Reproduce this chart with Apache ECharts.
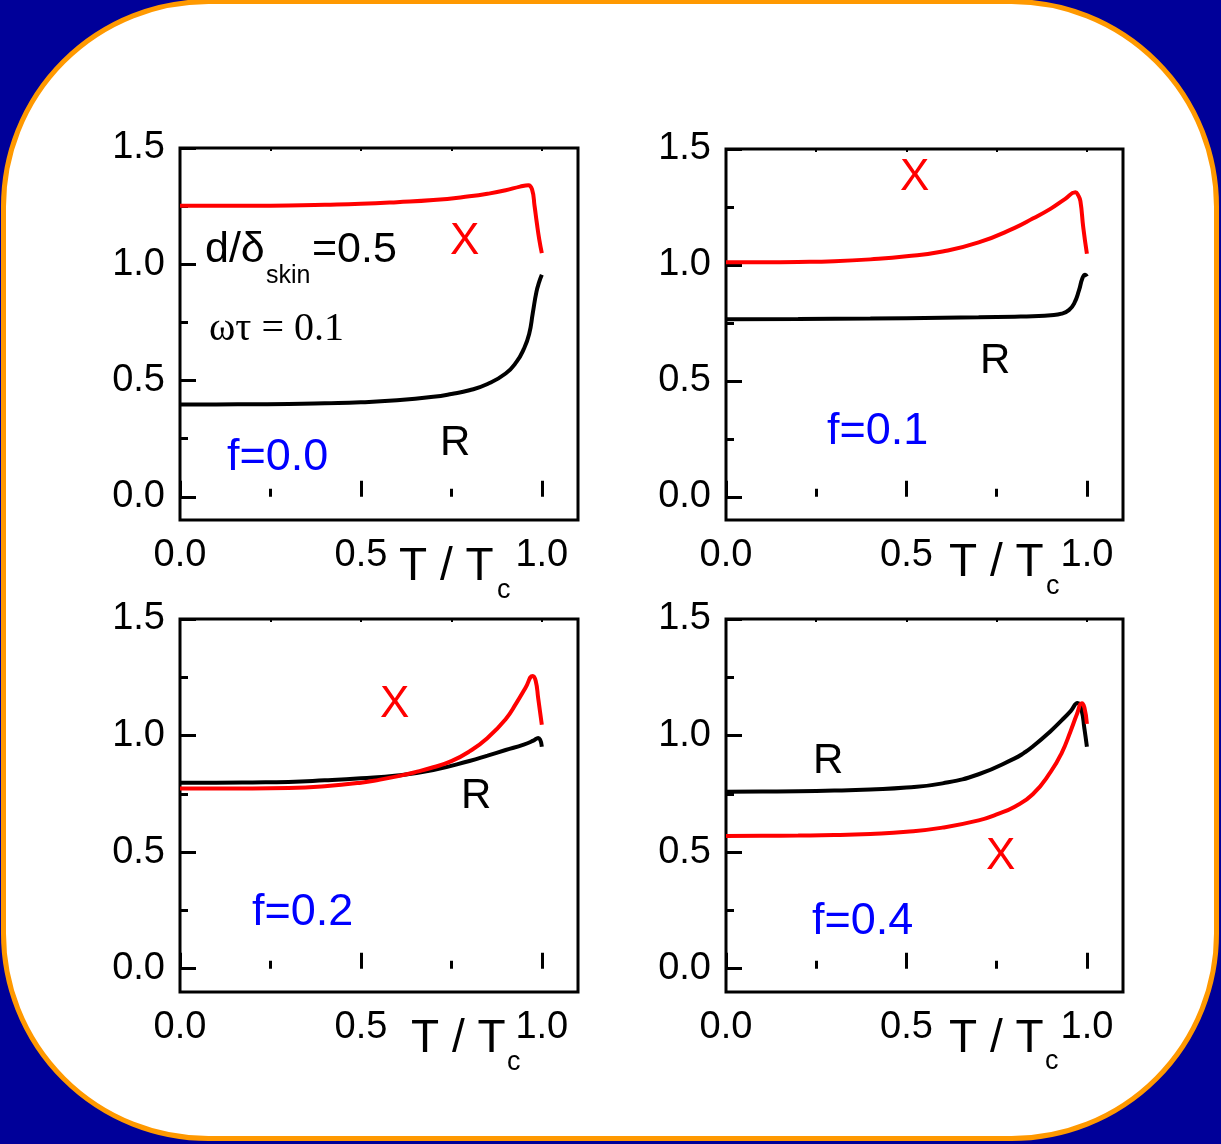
<!DOCTYPE html>
<html><head><meta charset="utf-8">
<script src="https://cdn.jsdelivr.net/npm/echarts@6/dist/echarts.min.js"></script>
<style>html,body{margin:0;padding:0;background:#000099;}#c{width:1221px;height:1144px;}</style>
</head><body><div id="c"></div><script>
// ---- data ----
const panelLabels = ['f=0.0', 'f=0.1', 'f=0.2', 'f=0.4'];
const xTickValues = [0, 0.5, 1.0];
const xMinorValues = [0.25, 0.75];
const xTopValues = [0.25, 0.5, 0.75, 1.0];
const yTickValues = [0, 0.5, 1.0, 1.5];
const yMinorValues = [0.25, 0.75, 1.25];

// f = 0.0
const f00_X_t = [0, 0.1, 0.2, 0.3, 0.4, 0.5, 0.6, 0.7, 0.8, 0.85, 0.9, 0.94, 0.963, 0.973, 0.98, 0.986, 0.993, 1.0];
const f00_X   = [1.252, 1.252, 1.252, 1.253, 1.256, 1.260, 1.267, 1.276, 1.292, 1.303, 1.318, 1.334, 1.340, 1.322, 1.25, 1.18, 1.106, 1.048];
const f00_R_t = [0, 0.1, 0.2, 0.3, 0.4, 0.5, 0.6, 0.7, 0.75, 0.8, 0.85, 0.9, 0.93, 0.95, 0.965, 0.975, 0.985, 0.993, 1.0];
const f00_R   = [0.397, 0.397, 0.398, 0.399, 0.402, 0.406, 0.415, 0.430, 0.442, 0.458, 0.485, 0.530, 0.580, 0.635, 0.700, 0.790, 0.880, 0.925, 0.955];
// f = 0.1
const f01_X_t = [0, 0.1, 0.2, 0.3, 0.4, 0.5, 0.6, 0.7, 0.8, 0.85, 0.9, 0.94, 0.968, 0.976, 0.982, 0.99, 1.0];
const f01_X   = [1.012, 1.012, 1.013, 1.016, 1.024, 1.037, 1.058, 1.097, 1.160, 1.200, 1.243, 1.285, 1.313, 1.300, 1.275, 1.16, 1.048];
const f01_R_t = [0, 0.2, 0.4, 0.6, 0.7, 0.8, 0.85, 0.9, 0.93, 0.95, 0.965, 0.978, 0.988, 0.995, 1.0];
const f01_R   = [0.766, 0.767, 0.769, 0.772, 0.774, 0.777, 0.779, 0.783, 0.790, 0.805, 0.835, 0.890, 0.945, 0.958, 0.950];
// f = 0.2
const f02_X_t = [0, 0.1, 0.2, 0.3, 0.4, 0.5, 0.55, 0.6, 0.65, 0.7, 0.75, 0.8, 0.85, 0.9, 0.93, 0.955, 0.975, 0.983, 0.99, 1.0];
const f02_X   = [0.773, 0.773, 0.773, 0.775, 0.783, 0.798, 0.810, 0.825, 0.843, 0.864, 0.890, 0.932, 0.990, 1.070, 1.140, 1.205, 1.256, 1.235, 1.160, 1.046];
const f02_R_t = [0, 0.1, 0.2, 0.3, 0.4, 0.5, 0.6, 0.7, 0.8, 0.85, 0.9, 0.95, 0.975, 0.99, 1.0];
const f02_R   = [0.798, 0.798, 0.799, 0.801, 0.808, 0.817, 0.829, 0.852, 0.891, 0.914, 0.938, 0.961, 0.977, 0.990, 0.952];
// f = 0.4
const f04_X_t = [0, 0.1, 0.2, 0.3, 0.4, 0.5, 0.6, 0.7, 0.75, 0.8, 0.85, 0.9, 0.93, 0.955, 0.972, 0.986, 0.993, 1.0];
const f04_X   = [0.569, 0.570, 0.571, 0.573, 0.578, 0.587, 0.605, 0.636, 0.662, 0.695, 0.748, 0.845, 0.925, 1.020, 1.090, 1.139, 1.120, 1.050];
const f04_R_t = [0, 0.1, 0.2, 0.3, 0.4, 0.5, 0.6, 0.7, 0.8, 0.825, 0.85, 0.9, 0.93, 0.955, 0.974, 0.985, 0.993, 1.0];
const f04_R   = [0.759, 0.760, 0.761, 0.764, 0.769, 0.777, 0.795, 0.834, 0.902, 0.925, 0.953, 1.020, 1.065, 1.105, 1.140, 1.110, 1.030, 0.952];

const panels = [
  {X: [f00_X_t, f00_X], R: [f00_R_t, f00_R]},
  {X: [f01_X_t, f01_X], R: [f01_R_t, f01_R]},
  {X: [f02_X_t, f02_X], R: [f02_R_t, f02_R]},
  {X: [f04_X_t, f04_X], R: [f04_R_t, f04_R]}
];

// ---- layout / style ----
const SANS = "'Liberation Sans', Arial, sans-serif";
const SERIF = "'Liberation Serif', 'Times New Roman', serif";
const gridRects = [
  {left: 180, top: 148, width: 398, height: 372},
  {left: 726, top: 149, width: 397, height: 371},
  {left: 180, top: 619, width: 398, height: 373},
  {left: 726, top: 619, width: 397, height: 373}
];

const pair = (xs, ys) => xs.map((x, i) => [x, ys[i]]);

const grid = [], xAxis = [], yAxis = [], series = [];
gridRects.forEach((r, g) => {
  grid.push(Object.assign({show: true, borderColor: '#000', borderWidth: 3, backgroundColor: 'transparent', containLabel: false}, r));
  const xBase = {gridIndex: g, type: 'value', min: 0, max: 1.1, splitLine: {show: false}, axisLine: {show: false}};
  xAxis.push(Object.assign({}, xBase, {position: 'bottom',
    axisTick: {show: true, inside: true, length: 16, lineStyle: {width: 3, color: '#000'}, customValues: xTickValues},
    axisLabel: {show: true, margin: 17, fontSize: 38, fontFamily: SANS, color: '#000', customValues: xTickValues, formatter: v => v.toFixed(1)}}));
  xAxis.push(Object.assign({}, xBase, {position: 'bottom',
    axisTick: {show: true, inside: true, length: 8, lineStyle: {width: 3, color: '#000'}, customValues: xMinorValues},
    axisLabel: {show: false}}));
  xAxis.push(Object.assign({}, xBase, {position: 'top',
    axisTick: {show: true, inside: true, length: 3, lineStyle: {width: 2, color: '#000'}, customValues: xTopValues},
    axisLabel: {show: false}}));
  const yBase = {gridIndex: g, type: 'value', min: -0.1, max: 1.5, position: 'left', splitLine: {show: false}, axisLine: {show: false}};
  yAxis.push(Object.assign({}, yBase, {
    axisTick: {show: true, inside: true, length: 16, lineStyle: {width: 3, color: '#000'}, customValues: yTickValues},
    axisLabel: {show: true, margin: 15, fontSize: 38, fontFamily: SANS, color: '#000', customValues: yTickValues, formatter: v => v.toFixed(1)}}));
  yAxis.push(Object.assign({}, yBase, {
    axisTick: {show: true, inside: true, length: 8, lineStyle: {width: 3, color: '#000'}, customValues: yMinorValues},
    axisLabel: {show: false}}));

  const p = panels[g];
  series.push({type: 'line', name: 'R', xAxisIndex: 3 * g, yAxisIndex: 2 * g, data: pair(p.R[0], p.R[1]),
    showSymbol: false, smooth: 0.5, lineStyle: {color: '#000', width: 4}, z: 3});
  series.push({type: 'line', name: 'X', xAxisIndex: 3 * g, yAxisIndex: 2 * g, data: pair(p.X[0], p.X[1]),
    showSymbol: false, smooth: 0.5, lineStyle: {color: '#FF0000', width: 4}, z: 4});
});

function txt(text, x, y, size, color, family) {
  return {type: 'text', x: x, y: y, z: 100,
    style: {text: text, fontSize: size, fontFamily: family || SANS, fill: color || '#000', align: 'left', verticalAlign: 'middle'}};
}

const graphics = [
  {type: 'rect', z: -10, shape: {x: 3.5, y: 1.5, width: 1213, height: 1137, r: 205},
   style: {fill: '#FFFFFF', stroke: '#FF9900', lineWidth: 5}},
  // panel 1
  txt('X', 450, 242, 44, '#FF0000'),
  txt('R', 440, 443, 42, '#000'),
  txt(panelLabels[0], 227, 458, 45, '#0000FF'),
  txt('d/δ', 205, 250, 43, '#000'),
  txt('skin', 266, 276, 25, '#000'),
  txt('=0.5', 312, 250, 43, '#000'),
  txt('ωτ = 0.1', 209, 329, 40, '#000', SERIF),
  // panel 2
  txt('X', 900, 178, 44, '#FF0000'),
  txt('R', 980, 361, 42, '#000'),
  txt(panelLabels[1], 827, 432, 45, '#0000FF'),
  // panel 3
  txt('X', 380, 705, 44, '#FF0000'),
  txt('R', 461, 796, 42, '#000'),
  txt(panelLabels[2], 252, 913, 45, '#0000FF'),
  // panel 4
  txt('R', 813, 761, 42, '#000'),
  txt('X', 986, 857, 44, '#FF0000'),
  txt(panelLabels[3], 812, 922, 45, '#0000FF'),
  // axis titles
  txt('T / T', 399, 567, 46, '#000'), txt('c', 497, 591, 27, '#000'),
  txt('T / T', 949, 563, 46, '#000'), txt('c', 1046, 587, 27, '#000'),
  txt('T / T', 411, 1039, 46, '#000'), txt('c', 507, 1063, 27, '#000'),
  txt('T / T', 949, 1039, 46, '#000'), txt('c', 1045, 1062, 27, '#000')
];

const chart = echarts.init(document.getElementById('c'), null, {renderer: 'canvas'});
chart.setOption({
  backgroundColor: '#000099',
  animation: false,
  grid: grid, xAxis: xAxis, yAxis: yAxis, series: series,
  graphic: {elements: graphics}
});
</script></body></html>
